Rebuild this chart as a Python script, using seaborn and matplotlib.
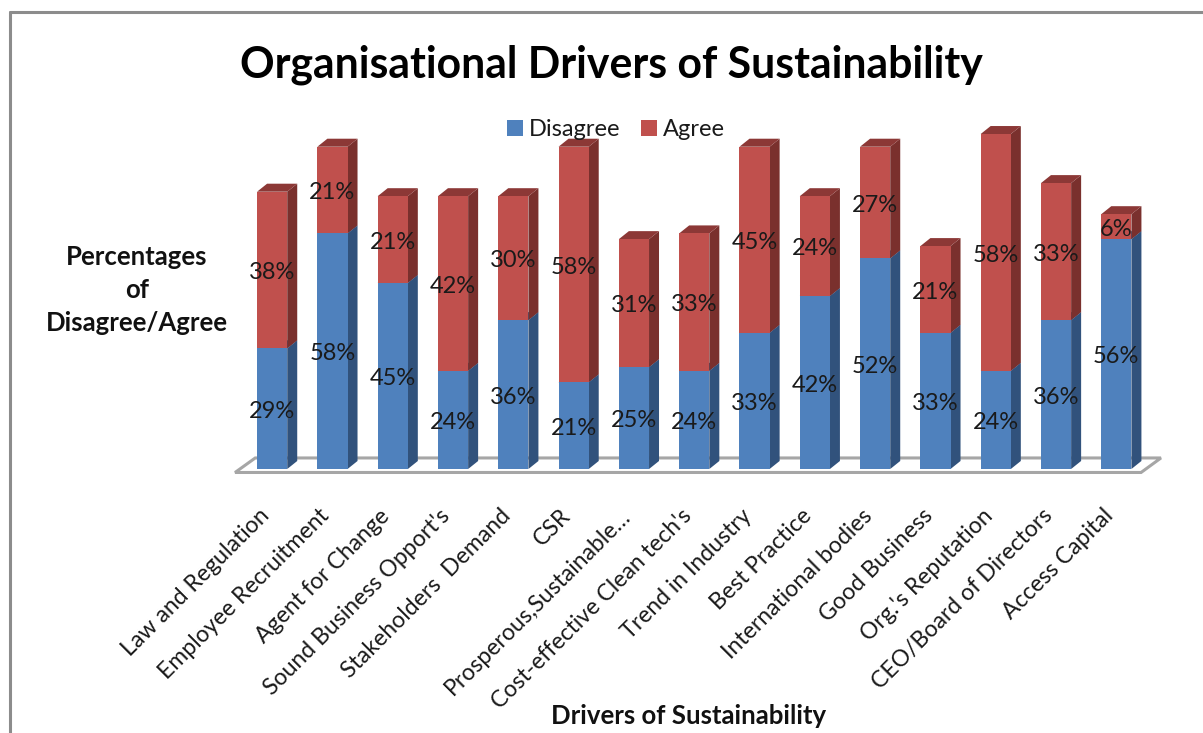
import matplotlib
matplotlib.use("Agg")
import matplotlib.pyplot as plt
from matplotlib.lines import Line2D
from matplotlib.patches import Polygon
from matplotlib.transforms import ScaledTranslation
import pandas as pd
import seaborn as sns

drivers = ["Law and Regulation", "Employee Recruitment", "Agent for Change",
           "Sound Business Opport's", "Stakeholders  Demand", "CSR",
           "Prosperous,Sustainable…", "Cost-effective Clean tech's", "Trend in Industry",
           "Best Practice", "International bodies", "Good Business",
           "Org.'s Reputation", "CEO/Board of Directors", "Access Capital"]
# bar heights, the printed labels are rounded
disagree = [29.5, 57.6, 45.5, 24.0, 36.4, 21.2, 24.9, 24.0, 33.3, 42.3, 51.5, 33.3, 24.0, 36.4, 56.2]
agree = [38.3, 21.2, 21.2, 42.7, 30.3, 57.6, 31.3, 33.6, 45.5, 24.4, 27.3, 21.2, 57.9, 33.5, 6.1]
disagree_labels = ["29%", "58%", "45%", "24%", "36%", "21%", "25%", "24%", "33%", "42%", "52%", "33%", "24%", "36%", "56%"]
agree_labels = ["38%", "21%", "21%", "42%", "30%", "58%", "31%", "33%", "45%", "24%", "27%", "21%", "58%", "33%", "6%"]

W, H = 1203, 733
BLUE, RED = "#4F81BD", "#C0504D"
BLUE_SIDE, RED_SIDE = "#31527C", "#7A302D"
BLUE_TOP, RED_TOP = "#3A6090", "#8C3836"
GREY = "#a6a6a6"

sns.set_theme(style="white")
plt.rcParams["font.family"] = ["Lato", "DejaVu Sans"]

df = pd.DataFrame({"driver": drivers, "disagree": disagree, "agree": agree})

fig = plt.figure(figsize=(W / 100, H / 100), dpi=100)
# axes placed so one category is 60.3 px and one percent is 4.09 px
ax = fig.add_axes([242 / W, (H - 469) / H, 904.5 / W, 369 / H])
sns.barplot(data=df, x="driver", y="disagree", color=BLUE, saturation=1, width=0.5,
            label="Disagree", ax=ax, zorder=3, linewidth=0, edgecolor="none")
sns.barplot(data=df, x="driver", y="agree", bottom=df["disagree"], color=RED, saturation=1,
            width=0.5, label="Agree", ax=ax, zorder=3, linewidth=0, edgecolor="none")
ax.set_xlim(-0.5, 14.5)
ax.set_ylim(0, 369 / 4.09)

# fake 3d depth: side and top faces worked out from the bars themselves
dx = 10 / 60.3
dy = 8 / 4.09
faces = [(ax.containers[0], BLUE_SIDE, BLUE_TOP), (ax.containers[1], RED_SIDE, RED_TOP)]
for bars, side, top in faces:
    for b in bars:
        x1 = b.get_x() + b.get_width()
        x0 = b.get_x()
        y0 = b.get_y()
        y1 = y0 + b.get_height()
        ax.add_patch(Polygon([(x1, y0), (x1 + dx, y0 + dy), (x1 + dx, y1 + dy), (x1, y1)],
                             fc=side, ec="none", clip_on=False, zorder=2))
        ax.add_patch(Polygon([(x0, y1), (x0 + dx, y1 + dy), (x1 + dx, y1 + dy), (x1, y1)],
                             fc=top, ec="none", clip_on=False, zorder=2))

# floor
x_lo, x_hi = ax.get_xlim()
ax.add_patch(Polygon([(x_lo - 0.115, -0.85), (x_lo + 0.22, 2.7), (x_hi + 0.24, 2.7), (x_hi - 0.09, -0.85)],
                     fc="white", ec=GREY, lw=2.2, clip_on=False, zorder=1))

ax.bar_label(ax.containers[0], labels=disagree_labels, label_type="center", padding=-2,
             fontsize=17, color="#1a1a1a", zorder=5)
ax.bar_label(ax.containers[1], labels=agree_labels, label_type="center", padding=-2,
             fontsize=17, color="#1a1a1a", zorder=5)

ax.tick_params(axis="x", length=0, pad=26)
ax.set_yticks([])
plt.setp(ax.get_xticklabels(), rotation=45, ha="right", rotation_mode="anchor",
         fontsize=16.6, color="#1a1a1a")
nudge = ScaledTranslation(-10 / 72, 0, fig.dpi_scale_trans)
for lab in ax.get_xticklabels():
    lab.set_transform(lab.get_transform() + nudge)
sns.despine(ax=ax, left=True, bottom=True)

ax.set_xlabel("Drivers of Sustainability", fontsize=18.5, fontweight="bold", color="#111111")
ax.xaxis.set_label_coords((689 - 242) / 904.5, -(716 - 469) / 369, ax.transAxes)
ax.xaxis.label.set_va("center")
ax.set_ylabel("Percentages\nof\nDisagree/Agree", rotation=0, fontsize=18.5, fontweight="bold",
              color="#111111", linespacing=1.47, ha="center", va="center")
ax.yaxis.set_label_coords((137 - 242) / 904.5, (469 - 290) / 369, ax.transAxes)

fig.text(611 / W, 1 - 65 / H, "Organisational Drivers of Sustainability", fontsize=30.8,
         fontweight="bold", color="black", ha="center", va="center")

leg = ax.legend(loc="center", bbox_to_anchor=(616 / W, 1 - 130 / H), bbox_transform=fig.transFigure,
                frameon=False, ncol=2, fontsize=17, handlelength=0.68, handleheight=0.68,
                handletextpad=0.25, columnspacing=0.85, borderpad=0)
leg.set_zorder(6)
for t in leg.get_texts():
    t.set_color("#1a1a1a")

# outer chart frame, cropped at right and bottom
fig.add_artist(Line2D([10 / W, 10 / W], [0, 1 - 12 / H], color="#8c8c8c", lw=2.2))
fig.add_artist(Line2D([10 / W, 1], [1 - 12 / H, 1 - 12 / H], color="#8c8c8c", lw=2.2))

fig.savefig("out.png", dpi=100)
